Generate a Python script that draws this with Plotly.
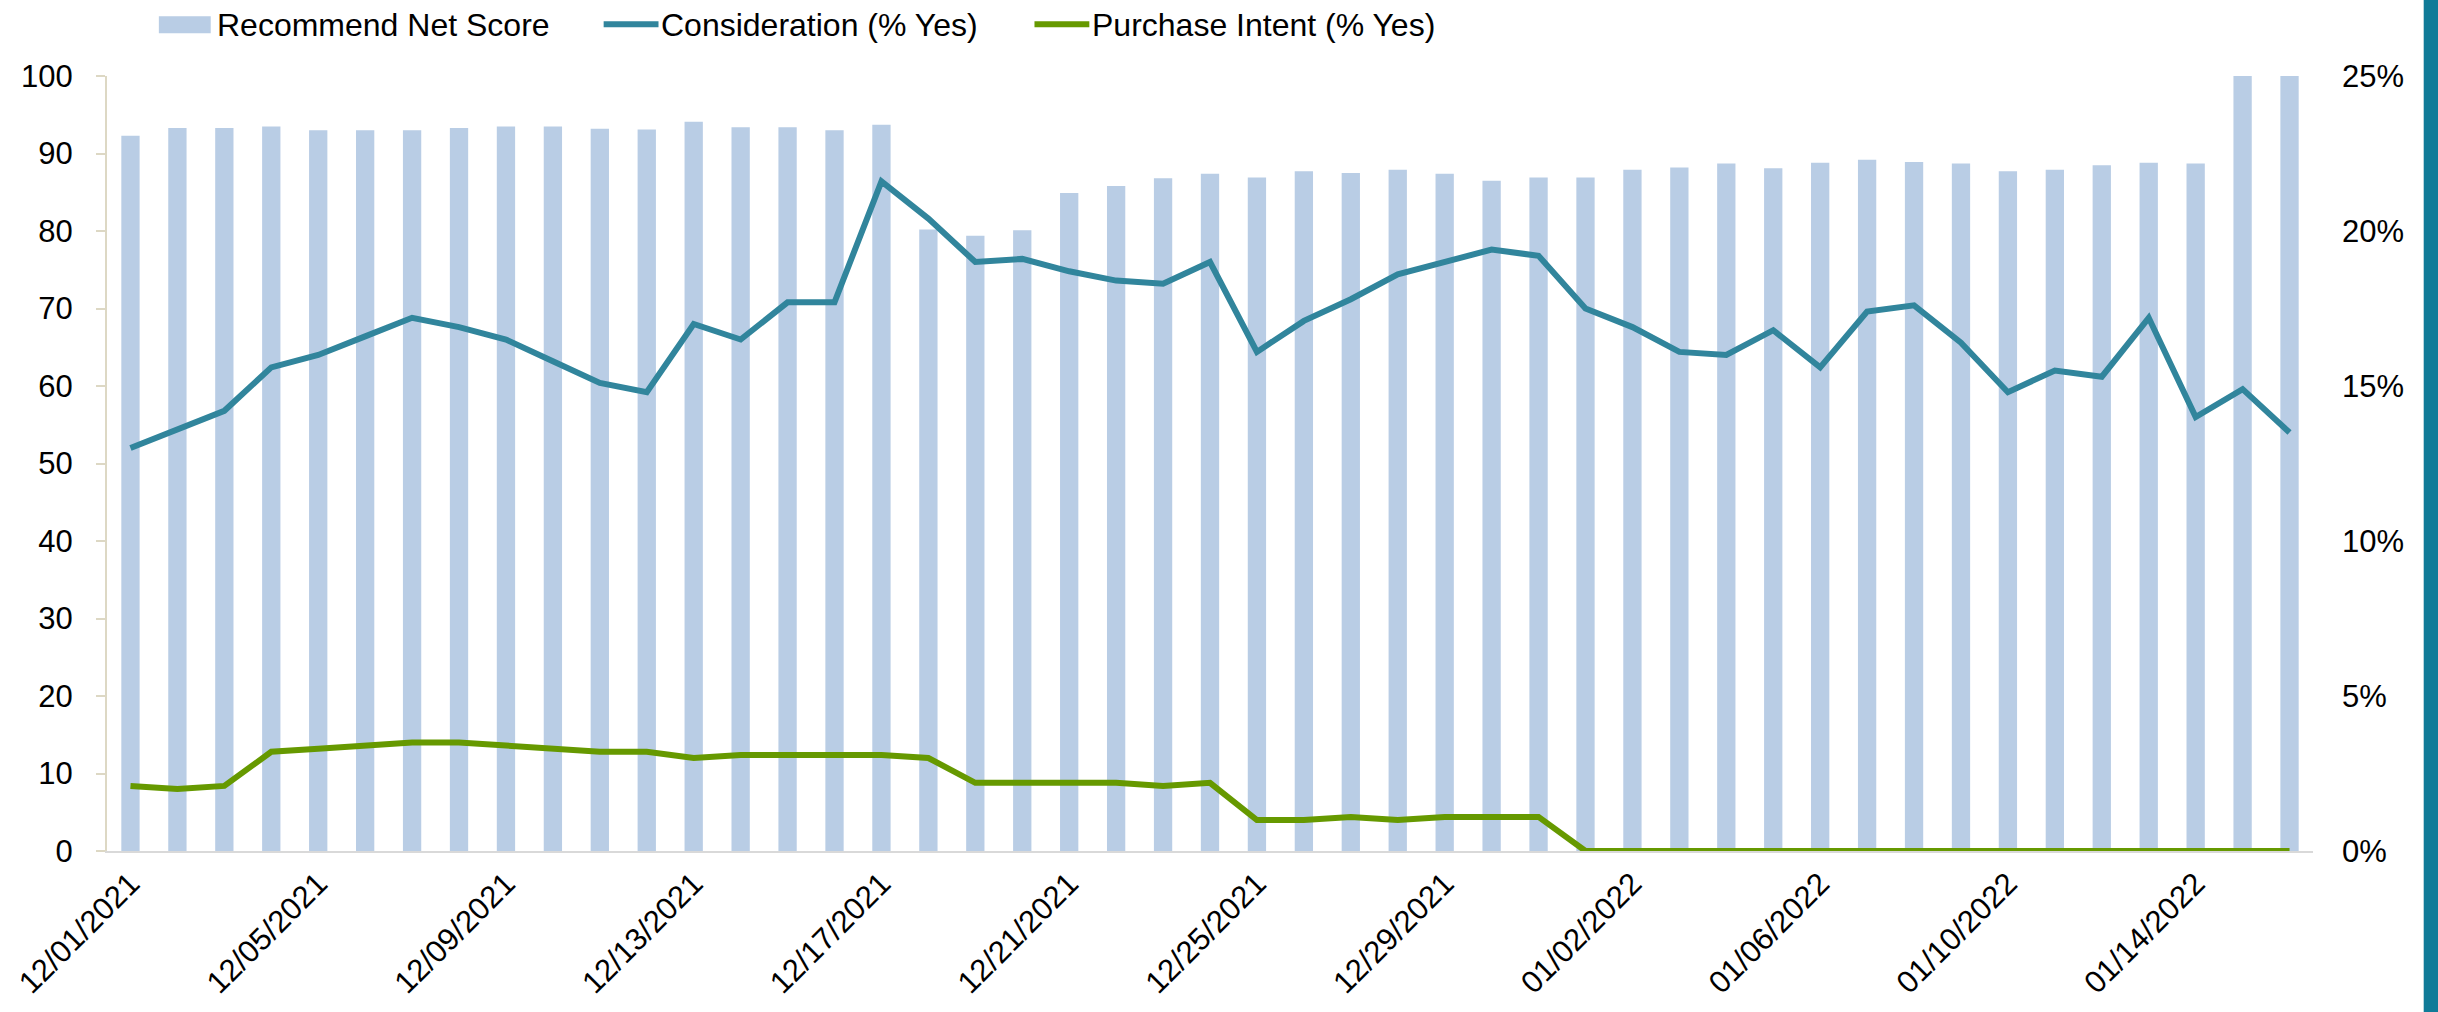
import plotly.graph_objects as go
import pandas as pd

# ---------------- data ----------------
dates = [d.strftime("%m/%d/%Y") for d in pd.date_range("2021-12-01", "2022-01-16", freq="D")]

recommend_net_score = [
    92.3, 93.3, 93.3, 93.5, 93.0, 93.0, 93.0, 93.3, 93.5, 93.5,
    93.2, 93.1, 94.1, 93.4, 93.4, 93.0, 93.7, 80.2, 79.4, 80.1,
    84.9, 85.8, 86.8, 87.4, 86.9, 87.7, 87.5, 87.9, 87.4, 86.5,
    86.9, 86.9, 87.9, 88.2, 88.7, 88.1, 88.8, 89.2, 88.9, 88.7,
    87.7, 87.9, 88.5, 88.8, 88.7, 100.0, 100.0,
]

consideration = [
    0.130, 0.136, 0.142, 0.156, 0.160, 0.166, 0.172, 0.169, 0.165, 0.158,
    0.151, 0.148, 0.170, 0.165, 0.177, 0.177, 0.216, 0.204, 0.190, 0.191,
    0.187, 0.184, 0.183, 0.190, 0.161, 0.171, 0.178, 0.186, 0.190, 0.194,
    0.192, 0.175, 0.169, 0.161, 0.160, 0.168, 0.156, 0.174, 0.176, 0.164,
    0.148, 0.155, 0.153, 0.172, 0.140, 0.149, 0.135,
]

purchase_intent = [
    0.021, 0.020, 0.021, 0.032, 0.033, 0.034, 0.035, 0.035, 0.034, 0.033,
    0.032, 0.032, 0.030, 0.031, 0.031, 0.031, 0.031, 0.030, 0.022, 0.022,
    0.022, 0.022, 0.021, 0.022, 0.010, 0.010, 0.011, 0.010, 0.011, 0.011,
    0.011, 0.000, 0.000, 0.000, 0.000, 0.000, 0.000, 0.000, 0.000, 0.000,
    0.000, 0.000, 0.000, 0.000, 0.000, 0.000, 0.000,
]

tick_labels = [dates[i] for i in range(0, len(dates), 4)]

series_names = ["Recommend Net Score", "Consideration (% Yes)", "Purchase Intent (% Yes)"]
BAR_COLOR = "#b9cde5"
TEAL = "#31859c"
GREEN = "#669900"
FONT = "Liberation Sans, Arial, sans-serif"

# ---------------- layout geometry (page pixels) ----------------
W, H = 2438, 1012
PLOT_L, PLOT_R, PLOT_T, PLOT_B = 101, 2313, 76, 854  # plot area
L, T = PLOT_L, PLOT_T
R, B = W - PLOT_R, H - PLOT_B
PW, PH = PLOT_R - PLOT_L, PLOT_B - PLOT_T


def px(x):
    return (x - PLOT_L) / PW


def py(y):
    return (PLOT_B - y) / PH


fig = go.Figure()
fig.add_trace(go.Bar(
    x=dates, y=recommend_net_score, name=series_names[0],
    marker=dict(color=BAR_COLOR, line=dict(width=0)), width=0.39,
    showlegend=False, yaxis="y",
))
fig.add_trace(go.Scatter(
    x=dates, y=consideration, name=series_names[1], mode="lines",
    line=dict(color=TEAL, width=6), showlegend=False, yaxis="y2",
))
fig.add_trace(go.Scatter(
    x=dates, y=purchase_intent, name=series_names[2], mode="lines",
    line=dict(color=GREEN, width=6), showlegend=False, yaxis="y2",
))

# custom legend (swatches + text)
shapes = [
    dict(type="rect", xref="paper", yref="paper", x0=px(153), x1=px(205), y0=py(33), y1=py(16),
         fillcolor=BAR_COLOR, line=dict(width=0)),
    dict(type="line", xref="paper", yref="paper", x0=px(599), x1=px(654), y0=py(24), y1=py(24),
         line=dict(color=TEAL, width=6)),
    dict(type="line", xref="paper", yref="paper", x0=px(1031), x1=px(1086), y0=py(24), y1=py(24),
         line=dict(color=GREEN, width=6)),
    # decorative teal strip on right edge
    dict(type="rect", xref="paper", yref="paper", x0=px(2424), x1=px(2445), y0=py(1020), y1=py(-5),
         fillcolor="#0f7b98", line=dict(width=0), layer="above"),
]
annotations = [
    dict(text=series_names[0], xref="paper", yref="paper", x=px(209), y=py(25), xanchor="left",
         yanchor="middle", showarrow=False, font=dict(size=32, color="#000000", family=FONT)),
    dict(text=series_names[1], xref="paper", yref="paper", x=px(655), y=py(25), xanchor="left",
         yanchor="middle", showarrow=False, font=dict(size=32, color="#000000", family=FONT)),
    dict(text=series_names[2], xref="paper", yref="paper", x=px(1087), y=py(25), xanchor="left",
         yanchor="middle", showarrow=False, font=dict(size=32, color="#000000", family=FONT)),
]

fig.update_layout(
    width=W, height=H,
    margin=dict(l=L, r=R, t=T, b=B, pad=0),
    paper_bgcolor="white", plot_bgcolor="white",
    font=dict(family=FONT, size=31, color="#000000"),
    shapes=shapes, annotations=annotations,
    hovermode=False,
    xaxis=dict(
        type="category", range=[-0.5, len(dates) - 0.5],
        tickmode="array", tickvals=tick_labels, ticktext=tick_labels,
        tickangle=-45, showgrid=False, zeroline=False,
        showline=True, linecolor="#d9d9d9", linewidth=2,
        ticks="", tickfont=dict(size=31),
    ),
    yaxis=dict(
        range=[0, 100], dtick=10, showgrid=False, zeroline=False,
        showline=True, linecolor="#ddd8c4", linewidth=2,
        ticks="outside", ticklen=9, tickcolor="#ddd8c4", tickwidth=2,
        tickfont=dict(size=31), ticklabelstandoff=17,
    ),
    yaxis2=dict(
        range=[0, 0.25], dtick=0.05, tickformat=".0%", overlaying="y", side="right",
        showgrid=False, zeroline=False, showline=False, ticks="",
        tickfont=dict(size=31), ticklabelstandoff=28,
    ),
)

fig.write_html(
    "out.html",
    config={"displayModeBar": False, "staticPlot": True},
    post_script="document.body.style.margin='0';document.body.style.overflow='hidden';",
)
